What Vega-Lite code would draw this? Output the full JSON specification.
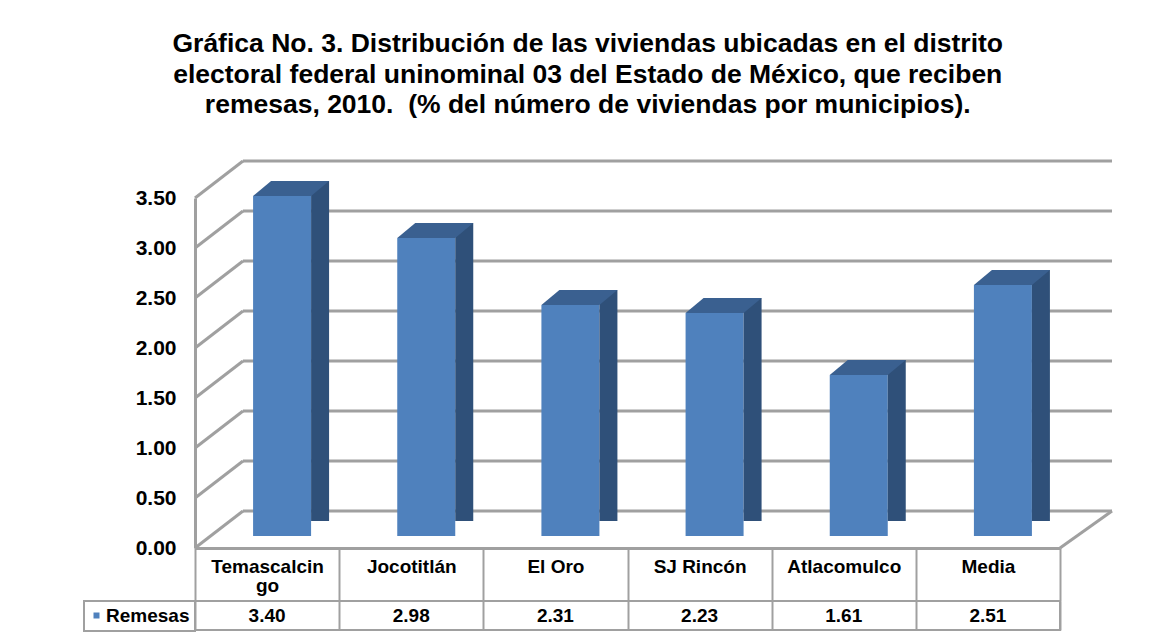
{
  "$schema": "https://vega.github.io/schema/vega-lite/v6.json",
  "background": "white",
  "padding": {"left": 82, "top": 31, "right": 5, "bottom": 5},
  "config": {"view": {"stroke": null}, "font": "Liberation Sans", "legend": {"strokeWidth": 2}},
  "title": {
    "text": ["Gráfica No. 3. Distribución de las viviendas ubicadas en el distrito", "electoral federal uninominal 03 del Estado de México, que reciben", "remesas, 2010.\u00a0 (% del número de viviendas por municipios)."],
    "font": "Liberation Sans", "fontSize": 26.5, "fontWeight": "bold", "color": "#000000",
    "anchor": "middle", "lineHeight": 30.5, "offset": 41, "dx": -10
  },
  "datasets": {
    "remesas": [
      {"municipio": "Temascalcingo", "serie": "Remesas", "valor": 3.40},
      {"municipio": "Jocotitlán", "serie": "Remesas", "valor": 2.98},
      {"municipio": "El Oro", "serie": "Remesas", "valor": 2.31},
      {"municipio": "SJ Rincón", "serie": "Remesas", "valor": 2.23},
      {"municipio": "Atlacomulco", "serie": "Remesas", "valor": 1.61},
      {"municipio": "Media", "serie": "Remesas", "valor": 2.51}
    ],
    "grid": [{"v": 0}, {"v": 0.5}, {"v": 1}, {"v": 1.5}, {"v": 2}, {"v": 2.5}, {"v": 3}, {"v": 3.5}]
  },
  "bounds": "flush",
  "spacing": 53,
  "resolve": {"legend": {"color": "independent"}},
  "vconcat": [
    {
      "width": 865,
      "height": 350,
      "layer": [
        {
          "data": {"name": "grid"},
          "mark": {"type": "rule", "color": "#a0a0a0", "strokeWidth": 3, "xOffset": 48, "x2Offset": 52, "yOffset": -37},
          "encoding": {
            "x": {"datum": "Temascalcingo", "type": "nominal", "bandPosition": 0, "scale": {"domain": ["Temascalcingo", "Jocotitlán", "El Oro", "SJ Rincón", "Atlacomulco", "Media"], "padding": 0}},
            "x2": {"datum": "Media", "bandPosition": 1},
            "y": {"field": "v", "type": "quantitative", "scale": {"domain": [0, 3.5], "nice": false}}
          }
        },
        {
          "data": {"name": "grid"},
          "mark": {"type": "rule", "color": "#a0a0a0", "strokeWidth": 3, "x2Offset": 48, "y2Offset": -37},
          "encoding": {
            "x": {"datum": "Temascalcingo", "type": "nominal", "bandPosition": 0},
            "x2": {"datum": "Temascalcingo", "bandPosition": 0},
            "y": {"field": "v", "type": "quantitative"},
            "y2": {"field": "v"}
          }
        },
        {
          "data": {"name": "grid"},
          "transform": [{"filter": "datum.v == 0"}],
          "mark": {"type": "rule", "color": "#a0a0a0", "strokeWidth": 3, "x2Offset": 52, "y2Offset": -37},
          "encoding": {
            "x": {"datum": "Media", "type": "nominal", "bandPosition": 1},
            "x2": {"datum": "Media", "bandPosition": 1},
            "y": {"field": "v", "type": "quantitative"},
            "y2": {"field": "v"}
          }
        },
        {
          "data": {"name": "remesas"},
          "mark": {"type": "bar", "width": 58, "xOffset": 15, "yOffset": -12, "y2Offset": -12, "color": "#4f81bd"},
          "encoding": {
            "x": {
              "field": "municipio", "type": "nominal", "sort": null,
              "axis": {
                "orient": "bottom", "title": null, "labelAngle": 0, "labelAlign": "center",
                "labelFont": "Liberation Sans", "labelFontSize": 19, "labelFontWeight": "bold", "labelColor": "#000000",
                "labelExpr": "datum.value == 'Temascalcingo' ? ['Temascalcin', 'go'] : datum.value",
                "labelLineHeight": 19, "labelBaseline": "top", "labelPadding": -44,
                "tickBand": "extent", "tickSize": 53, "tickColor": "#a0a0a0", "tickWidth": 2,
                "domainColor": "#a0a0a0", "domainWidth": 3
              }
            },
            "y": {
              "field": "valor", "type": "quantitative", "scale": {"domain": [0, 3.5], "nice": false},
              "axis": {
                "title": null, "values": [0, 0.5, 1, 1.5, 2, 2.5, 3, 3.5], "format": ".2f",
                "labelFont": "Liberation Sans", "labelFontSize": 21, "labelFontWeight": "bold", "labelColor": "#000000",
                "ticks": false, "labelPadding": 19, "domainColor": "#a0a0a0", "domainWidth": 3, "grid": false
              }
            }
          }
        },
        {
          "data": {"name": "remesas"},
          "mark": {"type": "bar", "width": 18, "xOffset": 53, "yOffset": -27, "y2Offset": -12, "color": "#2f5079"},
          "encoding": {
            "x": {"field": "municipio", "type": "nominal", "sort": null},
            "y": {"field": "valor", "type": "quantitative"}
          }
        },
        {
          "data": {"name": "remesas"},
          "mark": {"type": "point", "shape": "M-1,0.1974L0.5263,0.1974L1,-0.1974L-0.5263,-0.1974Z", "size": 5776, "filled": true, "color": "#3a6090", "opacity": 1, "strokeWidth": 0, "xOffset": 24, "yOffset": -19.5},
          "encoding": {
            "x": {"field": "municipio", "type": "nominal", "sort": null},
            "y": {"field": "valor", "type": "quantitative"}
          }
        }
      ]
    },
    {
      "width": 865,
      "height": 29,
      "view": {"stroke": "#a0a0a0", "strokeWidth": 2},
      "data": {"name": "remesas"},
      "layer": [
        {
          "mark": {"type": "text", "font": "Liberation Sans", "fontSize": 19, "fontWeight": "bold", "color": "#000000", "baseline": "middle"},
          "encoding": {
            "x": {
              "field": "municipio", "type": "nominal", "sort": null,
              "scale": {"domain": ["Temascalcingo", "Jocotitlán", "El Oro", "SJ Rincón", "Atlacomulco", "Media"], "padding": 0},
              "axis": {"orient": "top", "title": null, "labels": false, "ticks": false, "domain": false, "grid": true, "gridColor": "#a0a0a0", "gridWidth": 2, "tickBand": "extent"}
            },
            "text": {"field": "valor", "type": "quantitative", "format": ".2f"}
          }
        },
        {
          "mark": {"type": "point", "opacity": 0, "filled": true},
          "encoding": {
            "x": {"field": "municipio", "type": "nominal", "sort": null},
            "color": {
              "field": "serie", "type": "nominal", "scale": {"range": ["#4f81bd"]},
              "legend": {
                "orient": "left", "title": null, "offset": 0, "padding": 5,
                "labelFont": "Liberation Sans", "labelFontSize": 19, "labelFontWeight": "bold", "labelColor": "#000000",
                "symbolType": "square", "symbolSize": 36, "symbolOpacity": 1, "symbolStrokeWidth": 0,
                "symbolOffset": -2, "labelOffset": 0, "strokeColor": "#a0a0a0"
              }
            }
          }
        }
      ]
    }
  ]
}
